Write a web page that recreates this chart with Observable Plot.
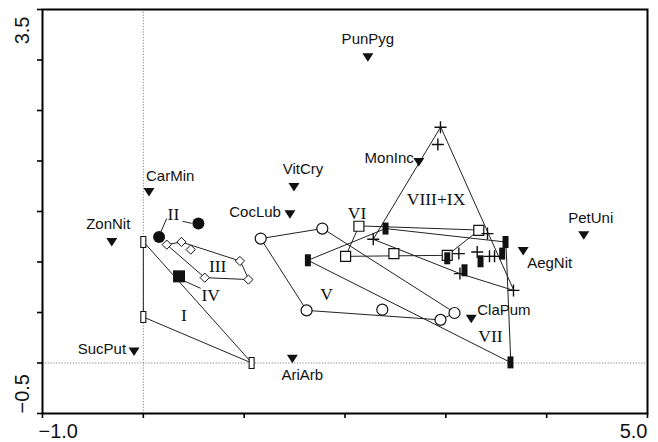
<!DOCTYPE html>
<html>
<head>
<meta charset="utf-8">
<script src="https://cdn.jsdelivr.net/npm/d3@7"></script>
<script src="https://cdn.jsdelivr.net/npm/@observablehq/plot@0.6"></script>
<style>
  html, body { margin: 0; padding: 0; background: #fff; }
  #chart svg { display: block; }
</style>
</head>
<body>
<div id="chart"></div>
<script>
// ---------- DATA ----------
// Species (plotted as filled down-pointing triangles)
const speciesNames = ["PunPyg", "CarMin", "VitCry", "CocLub", "ZonNit", "MonInc", "PetUni", "AegNit", "ClaPum", "SucPut", "AriArb"];
const speciesX = [2.227, 0.056, 1.494, 1.454, -0.313, 2.732, 4.368, 3.767, 3.252, -0.092, 1.478];
const speciesY = [3.026, 1.694, 1.743, 1.473, 1.198, 1.991, 1.265, 1.109, 0.439, 0.115, 0.043];

// Relevés (samples) and the group each belongs to
const groupNames = ["I", "II", "III", "IV", "V", "VI", "VII", "VIII+IX"];
const sampleGroup = [
  "I", "I", "I",
  "II", "II",
  "III", "III", "III", "III", "III", "III",
  "IV",
  "V", "V", "V", "V", "V", "V",
  "VI", "VI", "VI", "VI", "VI",
  "VII", "VII", "VII", "VII", "VII", "VII", "VII", "VII",
  "VIII+IX", "VIII+IX", "VIII+IX", "VIII+IX", "VIII+IX", "VIII+IX", "VIII+IX", "VIII+IX", "VIII+IX", "VIII+IX"
];
const sampleX = [
  0.0, 0.0, 1.074,
  0.156, 0.546,
  0.232, 0.378, 0.470, 0.958, 1.042, 0.609,
  0.354,
  1.164, 1.775, 3.086, 2.947, 1.619, 2.370,
  2.138, 3.327, 3.014, 2.485, 2.006,
  1.632, 2.402, 3.592, 3.641, 3.014, 3.185, 3.344, 3.559,
  2.947, 2.921, 2.280, 3.671, 3.413, 3.129, 3.311, 3.433, 3.483, 3.140
];
const sampleY = [
  1.198, 0.455, 0.0,
  1.248, 1.381,
  1.172, 1.198, 1.123, 1.010, 0.826, 0.845,
  0.858,
  1.232, 1.331, 0.495, 0.427, 0.521, 0.528,
  1.354, 1.314, 1.066, 1.083, 1.056,
  1.017, 1.331, 1.198, 0.006, 1.037, 0.918, 1.007, 1.083,
  2.334, 2.164, 1.225, 0.719, 1.281, 1.083, 1.099, 1.056, 1.056, 0.885
];

// Group label anchors
const groupLabelX = [0.403, 0.298, 0.737, 0.668, 1.818, 2.120, 3.443, 2.903];
const groupLabelY = [0.472, 1.473, 0.957, 0.669, 0.677, 1.480, 0.267, 1.616];

// Leader lines from labels to points
const leaderX1 = [0.232, 0.390, 0.390];
const leaderY1 = [1.431, 1.403, 0.819];
const leaderX2 = [0.172, 0.480, 0.569];
const leaderY2 = [1.294, 1.383, 0.739];

// Axes
const xTicks = [-1, 0, 1, 2, 3, 4, 5];
const yTicks = [-0.5, 0, 0.5, 1, 1.5, 2, 2.5, 3, 3.5];
const xEndLabels = ["\u22121.0", "5.0"];
const yEndLabels = ["\u22120.5", "3.5"];

// ---------- BUILD ----------
const species = speciesNames.map((name, i) => ({name, x: speciesX[i], y: speciesY[i]}));
const samples = sampleX.map((x, i) => ({x, y: sampleY[i], g: sampleGroup[i]}));
const groupLabels = groupNames.map((g, i) => ({g, x: groupLabelX[i], y: groupLabelY[i]}));
const leaders = leaderX1.map((x1, i) => ({x1, y1: leaderY1[i], x2: leaderX2[i], y2: leaderY2[i]}));

const hulls = groupNames.flatMap(g => {
  const pts = samples.filter(d => d.g === g).map(d => [d.x, d.y]);
  if (pts.length < 3) return [];
  return d3.polygonHull(pts).map(([x, y]) => ({x, y, g}));
});

// custom symbols
const rectSym = (w, h) => ({draw(c) { c.rect(-w / 2, -h / 2, w, h); }});
const circleSym = (r) => ({draw(c) { c.moveTo(r, 0); c.arc(0, 0, r, 0, 2 * Math.PI); }});
const diamondSym = (r) => ({draw(c) { c.moveTo(0, -r); c.lineTo(r, 0); c.lineTo(0, r); c.lineTo(-r, 0); c.closePath(); }});
const plusSym = (r) => ({draw(c) { c.moveTo(-r, 0); c.lineTo(r, 0); c.moveTo(0, -r); c.lineTo(0, r); }});
const triSym = {draw(c) { c.moveTo(-5.5, -4); c.lineTo(5.5, -4); c.lineTo(0, 4.5); c.closePath(); }};

const groupStyle = {
  "I":       {symbol: rectSym(5, 11), fill: "white", stroke: "#111", strokeWidth: 1.1},
  "II":      {symbol: circleSym(6), fill: "#111", stroke: "none", strokeWidth: 0},
  "III":     {symbol: diamondSym(4.6), fill: "white", stroke: "#111", strokeWidth: 1},
  "IV":      {symbol: rectSym(12, 12), fill: "#111", stroke: "none", strokeWidth: 0},
  "V":       {symbol: circleSym(5.5), fill: "white", stroke: "#111", strokeWidth: 1.2},
  "VI":      {symbol: rectSym(10, 10), fill: "white", stroke: "#111", strokeWidth: 1.2},
  "VII":     {symbol: rectSym(6, 12), fill: "#111", stroke: "none", strokeWidth: 0},
  "VIII+IX": {symbol: plusSym(6), fill: "none", stroke: "#111", strokeWidth: 1.4}
};

// species label placement: [textAnchor, dx, dy]
const speciesPlacement = {
  PunPyg: ["middle", 0, -18],
  CarMin: ["start", -3, -16],
  VitCry: ["middle", 9, -17.5],
  CocLub: ["end", -9, -2.5],
  ZonNit: ["middle", -3.5, -17.5],
  MonInc: ["end", -5, -3.7],
  PetUni: ["middle", 7, -17],
  AegNit: ["start", 4, 12],
  ClaPum: ["start", 6, -8.3],
  SucPut: ["end", -8, -2.3],
  AriArb: ["middle", 10, 16.4]
};

const sans = "'Liberation Sans', Arial, Helvetica, sans-serif";
const serif = "'Liberation Serif', 'Times New Roman', Times, serif";

const marks = [
  Plot.ruleX([0], {stroke: "#666", strokeWidth: 0.8, strokeDasharray: "1.2,1.6"}),
  Plot.ruleY([0], {stroke: "#666", strokeWidth: 0.8, strokeDasharray: "1.2,1.6"}),
  Plot.line(hulls, {x: "x", y: "y", z: "g", curve: "linear-closed", stroke: "#222", strokeWidth: 1}),
  Plot.link(leaders, {x1: "x1", y1: "y1", x2: "x2", y2: "y2", stroke: "#222", strokeWidth: 1}),
  ...groupNames.map(g => {
    const s = groupStyle[g];
    return Plot.dot(samples.filter(d => d.g === g), {
      x: "x", y: "y", r: 5, symbol: s.symbol, fill: s.fill, stroke: s.stroke, strokeWidth: s.strokeWidth
    });
  }),
  Plot.dot(species, {x: "x", y: "y", r: 5, symbol: triSym, fill: "#111", stroke: "none"}),
  ...species.map(s => {
    const [anchor, dx, dy] = speciesPlacement[s.name];
    return Plot.text([s], {
      x: "x", y: "y", text: "name", textAnchor: anchor, lineAnchor: "middle",
      dx, dy, fontSize: 15, fontFamily: sans, fill: "#111"
    });
  }),
  Plot.text(groupLabels, {x: "x", y: "y", text: "g", fontSize: 17.5, fontFamily: serif, fill: "#111", lineAnchor: "middle"}),
  Plot.frame({stroke: "#000", strokeWidth: 2}),
  Plot.axisX({ticks: xTicks, tickSize: 5, tickFormat: () => "", label: null, strokeWidth: 1.6}),
  Plot.axisY({ticks: yTicks, tickSize: 5, tickFormat: () => "", label: null, strokeWidth: 1.6}),
  Plot.text([0], {x: [xTicks[0]], text: [xEndLabels[0]], frameAnchor: "bottom", textAnchor: "start", lineAnchor: "middle", dx: -4, dy: 18, fontSize: 20, fontFamily: sans, fill: "#111"}),
  Plot.text([0], {x: [xTicks[xTicks.length - 1]], text: [xEndLabels[1]], frameAnchor: "bottom", textAnchor: "end", lineAnchor: "middle", dx: 0, dy: 18, fontSize: 20, fontFamily: sans, fill: "#111"}),
  Plot.text([0], {y: [yTicks[0]], text: [yEndLabels[0]], frameAnchor: "left", textAnchor: "start", lineAnchor: "middle", rotate: -90, dx: -20, dy: 0, fontSize: 20, fontFamily: sans, fill: "#111"}),
  Plot.text([0], {y: [yTicks[yTicks.length - 1]], text: [yEndLabels[1]], frameAnchor: "left", textAnchor: "end", lineAnchor: "middle", rotate: -90, dx: -20, dy: 7, fontSize: 20, fontFamily: sans, fill: "#111"})
];

const chart = Plot.plot({
  width: 658,
  height: 442,
  marginLeft: 42,
  marginRight: 11,
  marginTop: 9,
  marginBottom: 29,
  style: {background: "white", overflow: "visible"},
  x: {domain: [-1, 5], label: null},
  y: {domain: [-0.5, 3.5], label: null},
  marks
});
document.getElementById("chart").appendChild(chart);
</script>
</body>
</html>
